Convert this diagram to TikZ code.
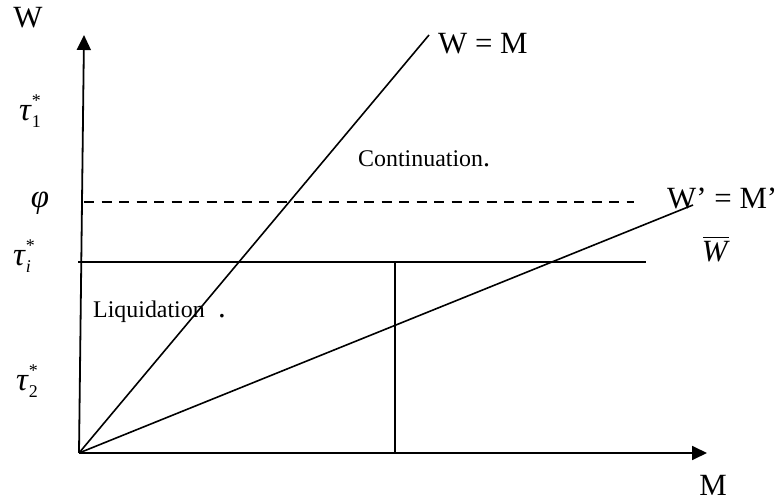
\documentclass[tikz,border=0pt]{standalone}
\usepackage{fontspec}
\setmainfont{Liberation Serif}
\usetikzlibrary{arrows.meta, positioning}

% tau with star and index, set in text
\newcommand{\taulabel}[1]{\textit{τ}\makebox[0pt][l]{\raisebox{14bp}{\fontsize{18}{18}\selectfont *}}\raisebox{-7bp}{\fontsize{18}{18}\selectfont #1}}

\tikzset{
  axis/.style={line width=1.8bp, -{Triangle[length=15bp,width=14bp]}},
  curve/.style={line width=1.6bp},
  big/.style={inner sep=0pt, font=\fontsize{31}{31}\selectfont},
  greek/.style={inner sep=0pt, font=\fontsize{33}{33}\selectfont},
  small/.style={inner sep=0pt, font=\fontsize{24}{24}\selectfont}
}

\begin{document}
\begin{tikzpicture}[x=1bp, y=-1bp]
  \useasboundingbox (0,0) rectangle (777,502);
  % axes
  \coordinate (O) at (79,453);
  \coordinate (Wtip) at (84,35);
  \coordinate (Mtip) at (707,453);
  \draw[axis] (O) -- (Wtip);
  \draw[axis] (O) -- (Mtip);
  \node[big] (Wlab) at (28,18) {W};
  \node[big] (Mlab) at (713,485) {M};
  % the two rays
  \coordinate (WMend) at (429,35);
  \coordinate (WpMend) at (693,205);
  \draw[curve] (O) -- (WMend);
  \draw[curve] (O) -- (WpMend);
  \node[big, anchor=west] (WMlab) at (438,44) {W = M};
  \node[big, anchor=west] (WpMlab) at (667,198) {W' = M'};
  % thresholds
  \coordinate (phiL) at (84,202);
  \coordinate (phiR) at (634,202);
  \draw[line width=2.6bp, dash pattern=on 10bp off 7.5bp] (phiL) -- (phiR);
  \coordinate (tauL) at (78,262);
  \coordinate (tauR) at (646,262);
  \draw[curve] (tauL) -- (tauR);
  \coordinate (cutTop) at (395,262);
  \coordinate (cutBot) at (395,453);
  \draw[curve] (cutTop) -- (cutBot);
  \node[big] (Wbar) at (716,252) {\textit{W}};
  \draw[line width=1.6bp] ([xshift=-13bp,yshift=4bp]Wbar.north) -- ([xshift=13bp,yshift=4bp]Wbar.north);
  % values on the W axis
  \node[greek] (tauone) at (30,111) {\taulabel{1}};
  \node[greek] (phi) at (40,203) {\textit{φ}};
  \node[greek] (taui) at (22,256) {\taulabel{\textit{i}}};
  \node[greek] (tautwo) at (27,381) {\taulabel{2}};
  % regions
  \node[small, anchor=base west] (cont) at (358,167) {Continuation\fontsize{28}{28}\selectfont.};
  \node[small, anchor=base west] (liq) at (93,317) {Liquidation};
  \node[big, anchor=base] (liqdot) at (222,317) {.};
\end{tikzpicture}
\end{document}
